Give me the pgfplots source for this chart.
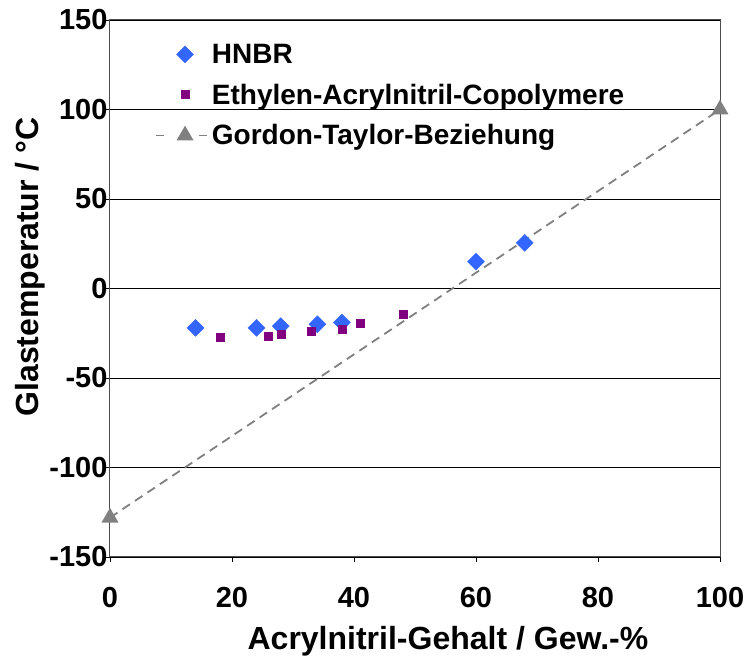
\documentclass[border=0pt]{standalone}
\usepackage{fontspec}
\setmainfont{Liberation Sans}
\usepackage{pgfplots}
\pgfplotsset{compat=1.18}

\definecolor{hnbr}{RGB}{51,102,255}
\definecolor{eac}{RGB}{128,0,128}
\definecolor{gt}{RGB}{128,128,128}

\pgfplotsset{
  markleg/.style={legend image code/.code={\path (0pt,0pt) (51pt,0pt); \draw[##1] plot coordinates {(29pt,0pt)};}},
  gtleg/.style={legend image code/.code={%
    \draw[##1, solid, mark=none] (0pt,0pt) -- (8pt,0pt);
    \draw[##1, solid, mark=none] (43pt,0pt) -- (51pt,0pt);
    \draw[##1] plot coordinates {(29pt,0pt)};}},
}

\begin{document}
\begin{tikzpicture}
\useasboundingbox (0,0) rectangle (756pt,660pt);
\begin{axis}[
    at={(110pt,103pt)}, anchor=south west,
    scale only axis,
    width=610pt, height=537pt,
    xmin=0, xmax=100, ymin=-150, ymax=150,
    xtick={0,20,...,100},
    ytick={-150,-100,...,150},
    ymajorgrids,
    major grid style={black, line width=0.8pt},
    axis line style={gt!60!black, line width=1pt},
    tick style={black, line width=0.8pt},
    tick pos=left, tick align=outside,
    major tick length=5pt,
    /pgf/number format/assume math mode=true,
    tick label style={font=\fontsize{29}{29}\selectfont\bfseries},
    xticklabel style={yshift=-22pt},
    yticklabel style={xshift=6pt},
    label style={font=\fontsize{32}{32}\selectfont\bfseries},
    xlabel={Acrylnitril-Gehalt / Gew.-\%},
    ylabel={Glastemperatur / °C},
    xlabel style={at={(axis description cs:0.554,-0.156)}, anchor=center},
    ylabel style={at={(axis description cs:-0.131,0.54)}, anchor=center},
    legend style={draw=none, fill=none, inner sep=0pt, outer sep=0pt,
        at={(0.074,0.959)}, anchor=north west,
        font=\fontsize{28}{28}\selectfont\bfseries, row sep=15pt,
        /tikz/every odd column/.append style={column sep=2pt}},
    legend cell align=left,
]
\addplot[only marks, mark=square*, mark size=6pt, mark options={rotate=45, fill=hnbr, draw=hnbr}, markleg]
coordinates {
(14,-22) (24,-22) (28,-21) (34,-20) (38,-19) (60,15) (68,25.5)
};
\addlegendentry{HNBR}
\addplot[only marks, mark=square*, mark size=4pt, mark options={fill=eac, draw=eac}, markleg]
coordinates {
(18,-27) (26,-26.5) (28,-25.5) (33,-24) (38,-23) (41,-19.5) (48,-14.5)
};
\addlegendentry{Ethylen-Acrylnitril-Copolymere}
\addplot[gt, line width=1.8pt, dash pattern=on 9pt off 6pt, mark=triangle*, mark size=8pt, mark options={solid, fill=gt, draw=gt}, gtleg]
coordinates {
(0,-128) (100,100)
};
\addlegendentry{Gordon-Taylor-Beziehung}
\end{axis}
\end{tikzpicture}
\end{document}
